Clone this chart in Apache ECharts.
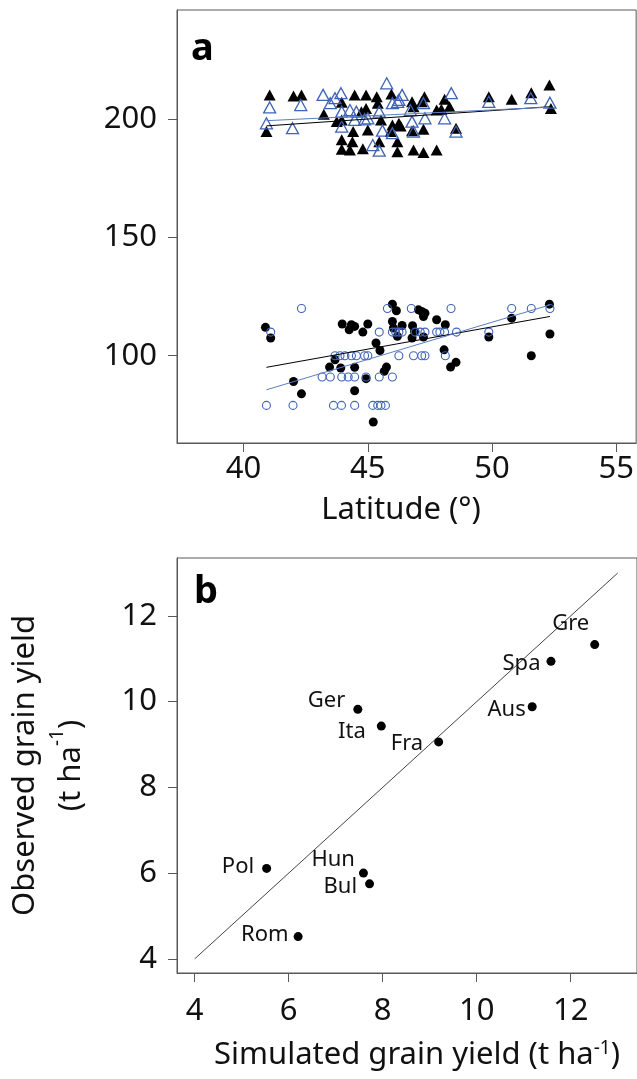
<!DOCTYPE html>
<html><head><meta charset="utf-8">
<script src="https://cdn.jsdelivr.net/npm/echarts@6/dist/echarts.min.js"></script>
<style>html,body{margin:0;padding:0;background:#fff}#c{width:637px;height:1079px}</style>
</head><body><div id="c"></div>
<script>
// ---------- Panel a data ----------
const latTicks = [40, 45, 50, 55];
const yTicksA = [100, 150, 200];
const triBlack = [[41.05,210.3],[42.01,209.8],[42.33,210.3],[44.47,210.3],[44.93,210.3],[45.36,209.5],[45.95,210.7],[43.95,207.2],[43.23,202.1],[40.92,194.8],[43.75,199.0],[43.95,199.7],[44.74,203.2],[44.93,204.6],[45.40,206.8],[45.53,199.7],[45.99,197.6],[46.32,197.2],[44.41,194.8],[45.00,195.5],[43.95,191.3],[44.38,190.5],[43.95,187.3],[44.28,187.0],[44.80,187.5],[45.46,190.5],[46.19,190.5],[46.19,186.3],[46.84,187.0],[45.92,194.8],[47.24,185.9],[47.77,187.0],[46.25,198.3],[46.78,195.1],[47.24,195.8],[48.55,196.2],[46.78,207.4],[46.84,205.3],[47.17,207.4],[47.28,209.5],[47.77,203.9],[47.96,204.2],[48.29,205.3],[48.09,208.5],[49.87,209.5],[50.79,208.5],[51.58,211.2],[52.31,214.5],[52.37,204.6]];
const triBlue = [[45.76,215.2],[43.20,210.3],[43.92,211.0],[43.68,208.9],[46.38,210.3],[48.36,211.0],[49.87,207.4],[51.56,208.9],[52.33,207.0],[41.05,205.0],[42.30,206.0],[40.92,198.3],[41.97,196.2],[43.49,206.8],[43.95,203.2],[44.28,203.9],[44.54,203.2],[45.00,200.4],[45.46,203.2],[43.95,196.9],[45.59,195.2],[45.99,194.1],[45.20,189.1],[45.46,186.7],[45.99,206.8],[46.25,208.2],[46.71,203.9],[44.47,199.7],[44.87,200.0],[48.09,200.4],[47.30,200.4],[46.78,199.0],[46.84,194.8],[48.55,194.8],[46.20,207.4],[47.24,206.8]];
const circBlack = [[40.88,112.0],[41.09,107.5],[42.01,89.1],[42.33,83.9],[43.46,95.2],[43.68,98.3],[43.91,94.8],[43.97,113.4],[44.25,111.0],[44.34,113.1],[44.47,112.4],[44.47,95.1],[44.47,85.2],[44.80,110.0],[45.00,113.4],[44.93,90.3],[45.22,72.0],[45.33,105.4],[45.49,102.2],[45.66,93.4],[45.75,95.2],[45.99,121.8],[46.15,119.0],[45.99,114.5],[46.03,111.7],[46.38,112.8],[46.19,108.2],[46.80,112.7],[46.88,110.3],[46.78,107.5],[47.04,119.4],[47.17,118.7],[47.24,116.6],[47.30,118.0],[47.24,107.9],[47.77,115.2],[48.12,113.1],[48.07,102.5],[48.33,95.2],[48.55,97.2],[49.87,107.9],[50.79,115.9],[51.58,100.0],[52.31,121.8],[52.33,109.2]];
const circBlue = [[42.33,120],[45.79,120],[46.75,120],[48.35,120],[50.79,120],[51.58,120],[52.33,120],
[41.09,110],[45.46,110],[45.99,110],[46.12,110],[46.25,110],[46.38,110],[46.91,110],[47.11,110],[47.30,110],[47.77,110],[47.90,110],[48.09,110],[48.57,110],[49.87,110],
[43.68,100],[43.88,100],[44.08,100],[44.34,100],[44.54,100],[44.87,100],[45.00,100],[46.25,100],[46.84,100],[47.17,100],[47.30,100],[48.12,100],
[43.16,91],[43.49,91],[43.95,91],[44.21,91],[44.47,91],[44.93,91],[45.46,91],[45.99,91],
[40.92,79],[41.99,79],[43.62,79],[43.94,79],[44.47,79],[45.20,79],[45.40,79],[45.53,79],[45.71,79]];
const trendTriBlack = [[40.92,197.2],[52.31,205.3]];
const trendTriBlue = [[40.92,199.4],[52.31,205.1]];
const trendCircBlack = [[40.92,95.1],[52.33,116.6]];
const trendCircBlue = [[40.92,85.6],[52.33,121.5]];

// ---------- Panel b data ----------
const countries = ['Gre','Spa','Ger','Ita','Aus','Fra','Pol','Hun','Bul','Rom'];
const simulated = [12.51,11.58,7.47,7.97,11.18,9.19,5.53,7.59,7.72,6.20];
const observed  = [11.33,10.94,9.82,9.43,9.88,9.06,6.11,6.00,5.75,4.52];
const ticksB = [4, 6, 8, 10, 12];
const oneToOne = [[4,4],[13,13]];

// label placement (layout only)
const labelOffsets = {Gre:[4,-21],Spa:[-1,2],Ger:[-3,-9],Ita:[-6,6],Aus:[3,3],Fra:[-6,2],Pol:[-3,-2],Hun:[1,-13],Bul:[-3,3],Rom:[0,-2]};

const FONT = 'Noto Sans';
const FRAME = '#595959';
const BLUE = '#3f63b5';
const BLUE_LINE = '#5a7ec6';
const TXT = '#111';

function axisCommon(ticks, labelMargin) {
  return {
    axisLine: {show: true, onZero: false, lineStyle: {color: FRAME, width: 1}},
    axisTick: {show: true, inside: false, length: 9, customValues: ticks, lineStyle: {color: FRAME, width: 1}},
    axisLabel: {show: true, customValues: ticks, margin: labelMargin, color: TXT, fontSize: 31, fontFamily: FONT},
    splitLine: {show: false}
  };
}

const chart = echarts.init(document.getElementById('c'), null, {renderer: 'canvas'});
const richMain = {fontSize: 31, fontFamily: FONT, color: TXT, lineHeight: 32};
const richSup = {fontSize: 19, fontFamily: FONT, color: TXT, lineHeight: 18, verticalAlign: 'top'};

const option = {
  animation: false,
  backgroundColor: '#fff',
  textStyle: {fontFamily: FONT},
  grid: [
    {left: 177, top: 10, width: 468, height: 433, show: true, borderColor: FRAME, borderWidth: 1, backgroundColor: 'transparent', containLabel: false},
    {left: 177, top: 558, width: 468, height: 415, show: true, borderColor: FRAME, borderWidth: 1, backgroundColor: 'transparent', containLabel: false}
  ],
  xAxis: [
    Object.assign({type: 'value', gridIndex: 0, min: 37.32, max: 55.80,
      name: 'Latitude (°)', nameLocation: 'middle', nameGap: 51,
      nameTextStyle: {fontSize: 31, fontFamily: FONT, color: TXT, lineHeight: 32, padding: [0, 11, 0, 0]}},
      axisCommon(latTicks, 11)),
    Object.assign({type: 'value', gridIndex: 1, min: 3.623, max: 13.41,
      name: '{t|Simulated grain yield (t ha}{s|-1}{t|)}', nameLocation: 'middle', nameGap: 66,
      nameTextStyle: {padding: [0, 0, 0, 20], rich: {t: richMain, s: richSup}}},
      axisCommon(ticksB, 23))
  ],
  yAxis: [
    Object.assign({type: 'value', gridIndex: 0, min: 63.1, max: 246.2}, axisCommon(yTicksA, 20)),
    Object.assign({type: 'value', gridIndex: 1, min: 3.67, max: 13.35,
      name: '{t|Observed grain yield}\n{t|(t ha}{s|-1}{t|)}', nameLocation: 'middle', nameGap: 83, nameRotate: 90,
      nameTextStyle: {rich: {t: Object.assign({}, richMain, {lineHeight: 46}), s: Object.assign({}, richSup, {lineHeight: 30})}}},
      axisCommon(ticksB, 20))
  ],
  graphic: [
    {type: 'text', x: 191, y: 49, style: {text: 'a', font: 'bold 38px "Noto Sans"', fill: '#000', align: 'left', verticalAlign: 'middle', textAlign: 'left', textVerticalAlign: 'middle'}},
    {type: 'text', x: 194, y: 592, style: {text: 'b', font: 'bold 38px "Noto Sans"', fill: '#000', align: 'left', verticalAlign: 'middle', textAlign: 'left', textVerticalAlign: 'middle'}}
  ],
  series: [
    {type: 'line', xAxisIndex: 0, yAxisIndex: 0, data: trendTriBlack, symbol: 'none', lineStyle: {color: '#000', width: 1}, z: 3},
    {type: 'line', xAxisIndex: 0, yAxisIndex: 0, data: trendTriBlue, symbol: 'none', lineStyle: {color: BLUE_LINE, width: 1}, z: 3},
    {type: 'line', xAxisIndex: 0, yAxisIndex: 0, data: trendCircBlack, symbol: 'none', lineStyle: {color: '#000', width: 1}, z: 3},
    {type: 'line', xAxisIndex: 0, yAxisIndex: 0, data: trendCircBlue, symbol: 'none', lineStyle: {color: BLUE_LINE, width: 1}, z: 3},
    {type: 'scatter', xAxisIndex: 0, yAxisIndex: 0, data: triBlack, symbol: 'triangle', symbolSize: [12, 11], itemStyle: {color: '#000', opacity: 1}, z: 2},
    {type: 'scatter', xAxisIndex: 0, yAxisIndex: 0, data: triBlue, symbol: 'triangle', symbolSize: [12, 11], itemStyle: {color: 'rgba(255,255,255,0)', borderColor: BLUE, borderWidth: 1.3, opacity: 1}, z: 2},
    {type: 'scatter', xAxisIndex: 0, yAxisIndex: 0, data: circBlack, symbol: 'circle', symbolSize: 9, itemStyle: {color: '#000', opacity: 1}, z: 2},
    {type: 'scatter', xAxisIndex: 0, yAxisIndex: 0, data: circBlue, symbol: 'circle', symbolSize: 8, itemStyle: {color: 'rgba(255,255,255,0)', borderColor: BLUE, borderWidth: 1.1, opacity: 1}, z: 2},
    {type: 'line', xAxisIndex: 1, yAxisIndex: 1, data: oneToOne, symbol: 'none', lineStyle: {color: '#444', width: 1}, z: 2},
    {type: 'scatter', xAxisIndex: 1, yAxisIndex: 1, symbol: 'circle', symbolSize: 9, itemStyle: {color: '#000', opacity: 1}, z: 3,
      data: countries.map((c, i) => ({name: c, value: [simulated[i], observed[i]], label: {offset: labelOffsets[c]}})),
      label: {show: true, position: 'left', distance: 5, formatter: '{b}', fontSize: 22, fontFamily: FONT, color: TXT}}
  ]
};
chart.setOption(option);
</script>
</body></html>
